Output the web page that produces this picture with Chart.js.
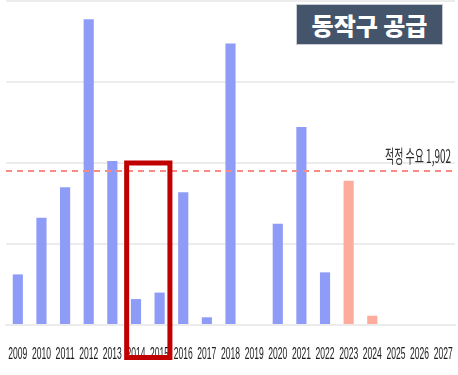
<!DOCTYPE html>
<html>
<head>
<meta charset="utf-8">
<script src="https://cdn.jsdelivr.net/npm/chart.js@4"></script>
<style>
  body { margin: 0; background: #fff; }
  #wrap { position: relative; width: 458px; height: 375px; }
  #title {
    position: absolute; left: 296px; top: 4px; width: 145px; height: 39px;
    background: #44546a; border: 1px solid #c9ccd2;
    color: #fff; font: 900 24px "Noto Sans CJK KR", sans-serif;
    display: flex; align-items: center; justify-content: center;
  }
</style>
</head>
<body>
<div id="wrap">
  <canvas id="Chart" width="458" height="375"></canvas>
  <div id="title">동작구 공급</div>
</div>
<script>
const years = ["2009","2010","2011","2012","2013","2014","2015","2016","2017","2018",
  "2019","2020","2021","2022","2023","2024","2025","2026","2027"];
const supply = [625, 1325, 1700, 3775, 2025, 320, 400, 1640, 95, 3475,
  0, 1250, 2445, 650, 1780, 115, 0, 0, 0];
const planned = ["2023", "2024", "2025", "2026", "2027"];
const demand = 1902;
const demandLabel = "적정 수요 1,902";
const boxYears = ["2014", "2015"];
const boxTop = 2000;

const blue = "#8f9cf7";
const salmon = "#fcab9c";

// narrow text helper (the source uses a condensed font)
function squeezed(ctx, text, x, y, width, font, align) {
  ctx.save();
  ctx.font = font;
  const sx = width / ctx.measureText(text).width;
  ctx.translate(x, y);
  ctx.scale(sx, 1);
  ctx.textAlign = align;
  ctx.textBaseline = "middle";
  ctx.fillText(text, 0, 0);
  ctx.restore();
}

const overlay = {
  id: "overlay",
  afterDatasetsDraw(chart) {
    const ctx = chart.ctx;
    const x = chart.scales.x;
    const y = chart.scales.y;
    const area = chart.chartArea;
    const yd = y.getPixelForValue(demand);

    // year labels
    ctx.fillStyle = "#1a1a1a";
    years.forEach((yr, i) => {
      squeezed(ctx, yr, x.getPixelForValue(i), x.top + 29, 19, "17px 'Liberation Sans', sans-serif", "center");
    });

    // dashed demand line
    ctx.save();
    ctx.strokeStyle = "#fb8a84";
    ctx.lineWidth = 2;
    ctx.setLineDash([6, 5]);
    ctx.beginPath();
    ctx.moveTo(area.left, yd);
    ctx.lineTo(area.right, yd);
    ctx.stroke();
    ctx.restore();

    ctx.fillStyle = "#2a2a2a";
    squeezed(ctx, demandLabel, area.right - 4, yd - 15, 66, "18px 'Noto Sans CJK KR', sans-serif", "right");

    // highlight box
    const half = (x.getPixelForValue(1) - x.getPixelForValue(0)) / 2;
    const l = x.getPixelForValue(years.indexOf(boxYears[0])) - half + 2.5;
    const r = x.getPixelForValue(years.indexOf(boxYears[1])) + half - 1.5;
    const t = y.getPixelForValue(boxTop);
    const b = x.top + 32.5;
    ctx.save();
    ctx.strokeStyle = "#c00000";
    ctx.lineWidth = 5;
    ctx.strokeRect(l, t, r - l, b - t);
    ctx.restore();
  }
};

new Chart(document.getElementById("Chart"), {
  type: "bar",
  data: {
    labels: years,
    datasets: [{
      data: supply,
      backgroundColor: years.map(yr => planned.includes(yr) ? salmon : blue),
      barPercentage: 0.43,
      categoryPercentage: 1
    }]
  },
  options: {
    responsive: false,
    animation: false,
    layout: { padding: { left: 6, right: 3, top: 1, bottom: 0 } },
    plugins: { legend: { display: false }, tooltip: { enabled: false } },
    scales: {
      x: {
        grid: { display: false, drawTicks: false },
        border: { display: true, color: "#ececec", width: 2 },
        ticks: { display: false },
        afterFit(scale) {
          scale.height = 50;
          scale.paddingLeft = 0;
          scale.paddingRight = 0;
        }
      },
      y: {
        min: 0, max: 4000,
        ticks: { display: false, stepSize: 1000 },
        grid: { color: "#ececec", lineWidth: 2, drawTicks: false },
        border: { display: false }
      }
    }
  },
  plugins: [overlay]
});
</script>
</body>
</html>
